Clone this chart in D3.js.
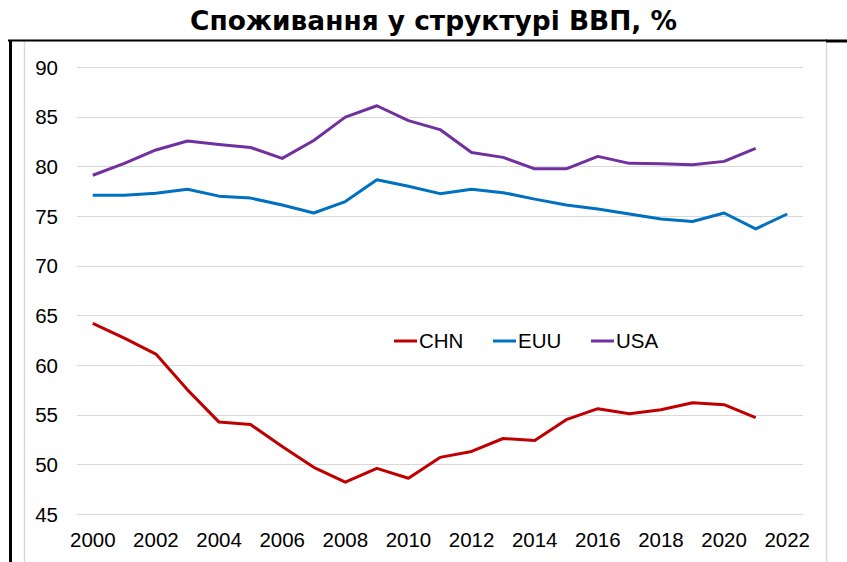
<!DOCTYPE html>
<html>
<head>
	<meta charset="utf-8">
	<title>Споживання у структурі ВВП</title>
	<script src="https://d3js.org/d3.v7.min.js"></script>
	<style>
		body { margin: 0; background: #fff; }
		.grid line { stroke: #d9d9d9; stroke-width: 1px; shape-rendering: crispEdges; }
		.axis text { font-family: "Liberation Sans", Arial, sans-serif; font-size: 20.5px; fill: #000; }
		.axis path, .axis line { display: none; }
		.legend text { font-family: "Liberation Sans", Arial, sans-serif; font-size: 20.5px; fill: #000; }
		.series { fill: none; stroke-width: 3px; stroke-linejoin: round; }
	</style>
</head>
<body>
<svg id="chart"></svg>
<script>
var years = d3.range(2000, 2023);
var yTicks = [45, 50, 55, 60, 65, 70, 75, 80, 85, 90];
var xTicks = [2000, 2002, 2004, 2006, 2008, 2010, 2012, 2014, 2016, 2018, 2020, 2022];

var chn = [64.2, 62.7, 61.1, 57.5, 54.25, 54.0, 51.8, 49.7, 48.2, 49.6, 48.6, 50.7,
           51.3, 52.6, 52.4, 54.5, 55.6, 55.1, 55.5, 56.2, 56.0, 54.7, null];
var euu = [77.1, 77.1, 77.3, 77.7, 77.0, 76.8, 76.1, 75.3, 76.45, 78.65, 78.0, 77.25,
           77.7, 77.35, 76.7, 76.1, 75.7, 75.2, 74.7, 74.45, 75.3, 73.7, 75.2];
var usa = [79.1, 80.3, 81.65, 82.55, 82.2, 81.9, 80.8, 82.6, 84.95, 86.1, 84.6, 83.7,
           81.4, 80.9, 79.75, 79.75, 81.0, 80.3, 80.25, 80.15, 80.5, 81.8, null];

var seriesNames = ['CHN', 'EUU', 'USA'];
var seriesColors = ['#c00000', '#0070c0', '#7030a0'];
var seriesValues = [chn, euu, usa];

var _width = 847, _height = 562;
var svg = d3.select('#chart').attr('width', _width).attr('height', _height);

// frames
svg.append('line').attr('x1', 24.5).attr('x2', 24.5).attr('y1', 41).attr('y2', 562)
	.attr('stroke', '#d9d9d9').attr('stroke-width', 1.5);
svg.append('line').attr('x1', 826.5).attr('x2', 826.5).attr('y1', 41).attr('y2', 562)
	.attr('stroke', '#d9d9d9').attr('stroke-width', 1.5);
svg.append('line').attr('x1', 8).attr('x2', 827).attr('y1', 40.5).attr('y2', 40.5)
	.attr('stroke', '#000').attr('stroke-width', 2);
svg.append('line').attr('x1', 826).attr('x2', 847).attr('y1', 41).attr('y2', 41)
	.attr('stroke', '#000').attr('stroke-width', 3);
svg.append('line').attr('x1', 10.5).attr('x2', 10.5).attr('y1', 40).attr('y2', 562)
	.attr('stroke', '#000').attr('stroke-width', 3);

// title
svg.append('text')
	.attr('x', 190).attr('y', 30)
	.attr('textLength', 487).attr('lengthAdjust', 'spacingAndGlyphs')
	.style('font-family', '"DejaVu Sans Condensed", "DejaVu Sans", sans-serif')
	.style('font-weight', 'bold').style('font-size', '27px')
	.text('Споживання у структурі ВВП, %');

var x = d3.scaleBand().domain(years).range([77, 803]);
var xc = function (yr) { return x(yr) + x.bandwidth() / 2; };
var y = d3.scaleLinear().domain([45, 90]).range([514, 67]);

// gridlines
svg.append('g').attr('class', 'grid')
	.selectAll('line').data(yTicks).enter().append('line')
	.attr('x1', 77).attr('x2', 803)
	.attr('y1', function (d) { return Math.round(y(d)) + 0.5; })
	.attr('y2', function (d) { return Math.round(y(d)) + 0.5; });

// y axis
var yAxis = svg.append('g').attr('class', 'axis')
	.attr('transform', 'translate(62,0)')
	.call(d3.axisLeft(y).tickValues(yTicks).tickSize(0).tickPadding(4));
yAxis.selectAll('text').attr('dy', '0.35em');

// x axis
var xAxis = svg.append('g').attr('class', 'axis')
	.attr('transform', 'translate(0,524)')
	.call(d3.axisBottom(x).tickValues(xTicks).tickSize(0).tickPadding(0));
xAxis.selectAll('text').attr('y', 0).attr('dy', '1.1em');

// lines
var line = d3.line()
	.defined(function (d) { return d != null; })
	.x(function (d, i) { return xc(years[i]); })
	.y(function (d) { return y(d); });

seriesValues.forEach(function (vals, k) {
	svg.append('path').attr('class', 'series')
		.attr('d', line(vals))
		.attr('stroke', seriesColors[k]);
});

// legend
var legendX = [394, 493, 591];
var legend = svg.append('g').attr('class', 'legend');
seriesNames.forEach(function (name, k) {
	legend.append('line')
		.attr('x1', legendX[k]).attr('x2', legendX[k] + 23)
		.attr('y1', 341).attr('y2', 341)
		.attr('stroke', seriesColors[k]).attr('stroke-width', 3);
	legend.append('text')
		.attr('x', legendX[k] + 25).attr('y', 341).attr('dy', '0.35em')
		.text(name);
});
</script>
</body>
</html>
